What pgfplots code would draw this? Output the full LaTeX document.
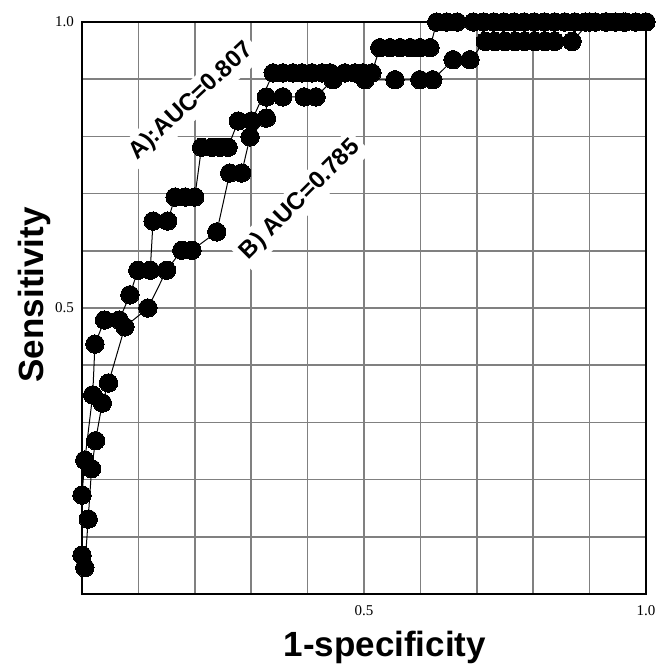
\documentclass[border=0pt]{standalone}
\usepackage{fontspec}
\setmainfont{Liberation Serif}
\newfontfamily\hv{Liberation Sans}
\usepackage{pgfplots}
\usepackage{pgfplotstable}
\pgfplotsset{compat=1.18}

% curve A (AUC 0.807)
\pgfplotstableread{
x y
0.000 0.068
0.000 0.173
0.005 0.234
0.019 0.348
0.023 0.437
0.040 0.479
0.066 0.479
0.085 0.523
0.099 0.566
0.121 0.566
0.126 0.652
0.152 0.652
0.165 0.694
0.183 0.694
0.200 0.694
0.212 0.781
0.230 0.781
0.245 0.781
0.259 0.781
0.277 0.827
0.301 0.827
0.339 0.911
0.356 0.911
0.374 0.911
0.390 0.911
0.408 0.911
0.426 0.911
0.440 0.911
0.466 0.911
0.484 0.911
0.498 0.911
0.514 0.911
0.528 0.955
0.546 0.955
0.564 0.955
0.582 0.955
0.599 0.955
0.617 0.955
0.629 1.000
0.647 1.000
0.665 1.000
0.694 1.000
0.712 1.000
0.730 1.000
0.748 1.000
0.766 1.000
0.784 1.000
0.802 1.000
0.820 1.000
0.838 1.000
0.856 1.000
0.874 1.000
0.892 1.000
0.910 1.000
0.928 1.000
0.946 1.000
0.964 1.000
0.982 1.000
1.000 1.000
}\curveA

% curve B (AUC 0.785)
\pgfplotstableread{
x y
0.005 0.046
0.011 0.131
0.017 0.219
0.024 0.268
0.036 0.334
0.047 0.369
0.076 0.467
0.117 0.500
0.150 0.566
0.177 0.601
0.195 0.601
0.239 0.633
0.262 0.736
0.283 0.736
0.298 0.799
0.327 0.832
0.327 0.869
0.356 0.869
0.394 0.869
0.415 0.869
0.445 0.899
0.502 0.899
0.555 0.899
0.599 0.899
0.622 0.899
0.658 0.934
0.688 0.934
0.715 0.966
0.732 0.966
0.750 0.966
0.768 0.966
0.785 0.966
0.803 0.966
0.821 0.966
0.838 0.966
0.869 0.966
0.900 1.000
0.930 1.000
0.960 1.000
1.000 1.000
}\curveB

\tikzset{rocline/.style={black, line width=0.5pt, mark=*, mark size=4.6pt,
    mark options={fill=black, draw=black, line width=0pt}}}

\begin{document}
\begin{tikzpicture}
\path[use as bounding box] (-41pt,-36pt) rectangle (291pt,297pt);
\begin{axis}[
    scale only axis,
    width=282pt, height=286pt,
    xmin=0, xmax=1, ymin=0, ymax=1,
    xtick={0,0.1,0.2,0.3,0.4,0.5,0.6,0.7,0.8,0.9,1},
    ytick={0,0.1,0.2,0.3,0.4,0.5,0.6,0.7,0.8,0.9,1},
    xticklabels={,,,,,0.5,,,,,1.0},
    yticklabels={,,,,,0.5,,,,,1.0},
    major tick length=0pt,
    ticklabel style={font=\fontsize{7.5}{9}\selectfont},
    xticklabel style={yshift=-2pt},
    yticklabel style={xshift=-0.5pt},
    grid=major,
    grid style={draw=gray, line width=0.75pt},
    axis line style={black, line width=0.8pt},
    clip=false,
]
\addplot[rocline] table {\curveB};
\addplot[rocline] table {\curveA};

\node[fill=white, rotate=43, inner sep=2.5pt, font=\hv\bfseries\fontsize{12}{14}\selectfont]
    at (axis cs:0.194,0.861) {A):AUC=0.807};
\node[fill=white, rotate=45, inner sep=2.5pt, font=\hv\bfseries\fontsize{12}{14}\selectfont]
    at (axis cs:0.387,0.689) {B) AUC=0.785};

\node[anchor=base, font=\hv\bfseries\fontsize{17.5}{20}\selectfont]
    at (axis cs:0.537,-0.110) {1-specificity};
\node[anchor=base, rotate=90, font=\hv\bfseries\fontsize{17.5}{20}\selectfont]
    at (axis cs:-0.0691,0.523) {Sensitivity};
\end{axis}
\end{tikzpicture}
\end{document}
